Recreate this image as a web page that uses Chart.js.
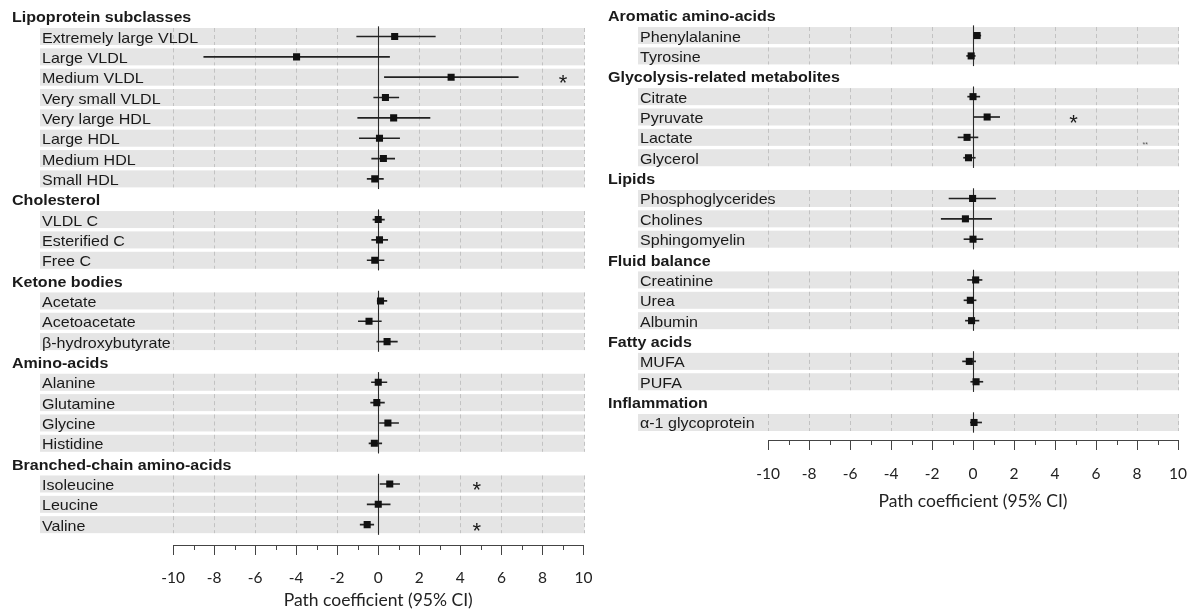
<!DOCTYPE html>
<html>
<head>
<meta charset="utf-8">
<script src="https://cdn.jsdelivr.net/npm/chart.js@4.4.1/dist/chart.umd.min.js"></script>
<style>
  html, body { margin: 0; padding: 0; background: #fff; width: 1191px; height: 612px; overflow: hidden; position: relative; }
  canvas { position: absolute; top: 0; }
  #leftPanel { left: 0; }
  #rightPanel { left: 595px; }
</style>
</head>
<body>
<canvas id="leftPanel" width="606" height="612"></canvas>
<canvas id="rightPanel" width="607" height="612"></canvas>
<script>
// ---- Left panel: rows (group headings included), estimates and 95% CI ----
const leftHeaders = ['Lipoprotein subclasses', 'Cholesterol', 'Ketone bodies', 'Amino-acids', 'Branched-chain amino-acids'];
const leftLabels = [
  'Lipoprotein subclasses',
  'Extremely large VLDL', 'Large VLDL', 'Medium VLDL', 'Very small VLDL',
  'Very large HDL', 'Large HDL', 'Medium HDL', 'Small HDL',
  'Cholesterol',
  'VLDL C', 'Esterified C', 'Free C',
  'Ketone bodies',
  'Acetate', 'Acetoacetate', 'β-hydroxybutyrate',
  'Amino-acids',
  'Alanine', 'Glutamine', 'Glycine', 'Histidine',
  'Branched-chain amino-acids',
  'Isoleucine', 'Leucine', 'Valine'
];
const leftEstimate = [
  null, 0.80, -3.98, 3.55, 0.35, 0.75, 0.06, 0.25, -0.17,
  null, 0.00, 0.06, -0.17,
  null, 0.11, -0.45, 0.43,
  null, 0.00, -0.07, 0.47, -0.19,
  null, 0.56, 0.00, -0.54
];
const leftLower = [
  null, -1.05, -8.50, 0.30, -0.22, -1.00, -0.92, -0.32, -0.54,
  null, -0.26, -0.32, -0.54,
  null, -0.05, -0.97, -0.07,
  null, -0.33, -0.37, 0.06, -0.45,
  null, 0.09, -0.54, -0.88
];
const leftUpper = [
  null, 2.78, 0.55, 6.82, 1.00, 2.52, 1.04, 0.80, 0.25,
  null, 0.30, 0.46, 0.28,
  null, 0.42, 0.15, 0.93,
  null, 0.42, 0.30, 0.99, 0.17,
  null, 1.04, 0.58, -0.22
];
const leftMarks = [
  { row: 'Medium VLDL', x: 9.0, text: '*' },
  { row: 'Isoleucine', x: 4.8, text: '*' },
  { row: 'Valine', x: 4.8, text: '*' }
];

// ---- Right panel ----
const rightHeaders = ['Aromatic amino-acids', 'Glycolysis-related metabolites', 'Lipids', 'Fluid balance', 'Fatty acids', 'Inflammation'];
const rightLabels = [
  'Aromatic amino-acids',
  'Phenylalanine', 'Tyrosine',
  'Glycolysis-related metabolites',
  'Citrate', 'Pyruvate', 'Lactate', 'Glycerol',
  'Lipids',
  'Phosphoglycerides', 'Cholines', 'Sphingomyelin',
  'Fluid balance',
  'Creatinine', 'Urea', 'Albumin',
  'Fatty acids',
  'MUFA', 'PUFA',
  'Inflammation',
  'α-1 glycoprotein'
];
const rightEstimate = [
  null, 0.20, -0.09,
  null, 0.00, 0.69, -0.29, -0.22,
  null, -0.02, -0.37, 0.00,
  null, 0.13, -0.13, -0.07,
  null, -0.18, 0.15,
  null, 0.05
];
const rightLower = [
  null, 0.02, -0.31,
  null, -0.26, 0.02, -0.73, -0.46,
  null, -1.17, -1.55, -0.44,
  null, -0.27, -0.44, -0.37,
  null, -0.51, -0.11,
  null, -0.13
];
const rightUpper = [
  null, 0.38, 0.11,
  null, 0.33, 1.30, 0.24, 0.11,
  null, 1.10, 0.91, 0.48,
  null, 0.44, 0.15, 0.29,
  null, 0.13, 0.48,
  null, 0.42
];
const rightMarks = [
  { row: 'Pyruvate', x: 4.9, text: '*' },
  { row: 'Lactate', x: 8.4, text: '**', tiny: true }
];

// x-axis range and tick step
const xMin = -10, xMax = 10, xStep = 2;
const axisTitle = 'Path coefficient (95% CI)';

const LABEL_FONT = '"Liberation Sans", Arial, sans-serif';
const AXIS_FONT = 'Lato, "Liberation Sans", sans-serif';

// Draws the shaded rows, dashed guides, zero line, row labels,
// significance markers and minor axis ticks around the datasets.
function makeDecor(cfg) {
  const headerSet = new Set(cfg.headers);
  const bandH = 17;
  return {
    id: 'forestDecor',
    beforeDatasetsDraw(chart) {
      const { ctx, chartArea: a, scales: { x, y } } = chart;
      const step = Math.abs(y.getPixelForValue(1) - y.getPixelForValue(0));
      ctx.save();
      cfg.labels.forEach((lab, i) => {
        if (headerSet.has(lab)) return;
        const cy = y.getPixelForValue(i);
        ctx.fillStyle = '#e5e5e5';
        ctx.fillRect(cfg.bandX, cy - bandH / 2, a.right + 1 - cfg.bandX, bandH);
        ctx.strokeStyle = '#c2c2c2';
        ctx.lineWidth = 1;
        ctx.setLineDash([4, 3]);
        for (let v = xMin; v <= xMax; v += xStep) {
          if (v === 0) continue;
          const px = Math.round(x.getPixelForValue(v)) + 0.5;
          ctx.beginPath();
          ctx.moveTo(px, cy - bandH / 2);
          ctx.lineTo(px, cy + bandH / 2);
          ctx.stroke();
        }
        ctx.setLineDash([]);
      });
      // zero reference line, one segment per group of rows
      const x0 = Math.round(x.getPixelForValue(0)) + 0.5;
      ctx.strokeStyle = '#2a2a2a';
      ctx.lineWidth = 1.1;
      let start = null;
      cfg.labels.forEach((lab, i) => {
        const isHead = headerSet.has(lab);
        if (!isHead && start === null) start = i;
        const last = i === cfg.labels.length - 1;
        if (start !== null && (isHead || last)) {
          const end = isHead ? i - 1 : i;
          ctx.beginPath();
          ctx.moveTo(x0, y.getPixelForValue(start) - step / 2);
          ctx.lineTo(x0, y.getPixelForValue(end) + step / 2);
          ctx.stroke();
          start = null;
        }
      });
      // row labels
      ctx.fillStyle = '#1a1a1a';
      ctx.textBaseline = 'alphabetic';
      ctx.textAlign = 'left';
      cfg.labels.forEach((lab, i) => {
        const isHead = headerSet.has(lab);
        const cy = y.getPixelForValue(i);
        ctx.save();
        ctx.translate(isHead ? cfg.headerX : cfg.itemX, cy + 6);
        ctx.scale(1.07, 1);
        ctx.font = (isHead ? 'bold ' : '') + '15px ' + LABEL_FONT;
        ctx.fillText(lab, 0, 0);
        ctx.restore();
      });
      ctx.restore();
    },
    afterDatasetsDraw(chart) {
      const { ctx, scales: { x, y } } = chart;
      ctx.save();
      ctx.fillStyle = '#1a1a1a';
      ctx.textAlign = 'center';
      ctx.textBaseline = 'alphabetic';
      cfg.marks.forEach(m => {
        const i = cfg.labels.indexOf(m.row);
        const px = x.getPixelForValue(m.x);
        const cy = y.getPixelForValue(i);
        if (m.tiny) {
          ctx.font = '7px ' + LABEL_FONT;
          ctx.fillStyle = '#555';
          ctx.fillText(m.text, px, cy + 10);
          ctx.fillStyle = '#1a1a1a';
        } else {
          ctx.font = '22px ' + LABEL_FONT;
          ctx.fillText(m.text, px, cy + 13);
        }
      });
      ctx.restore();
    },
    afterDraw(chart) {
      const { ctx, chartArea: a, scales: { x } } = chart;
      ctx.save();
      ctx.strokeStyle = '#444';
      ctx.lineWidth = 1;
      for (let v = xMin + 1; v < xMax; v += xStep) {
        const px = Math.round(x.getPixelForValue(v)) + 0.5;
        ctx.beginPath();
        ctx.moveTo(px, a.bottom);
        ctx.lineTo(px, a.bottom + 5);
        ctx.stroke();
      }
      ctx.restore();
    }
  };
}

function forestChart(id, labels, headers, est, lower, upper, marks, layout) {
  const ciData = [];
  const pointData = [];
  labels.forEach((lab, i) => {
    if (est[i] === null) return;
    ciData.push({ y: i, x: [lower[i], upper[i]] });
    pointData.push({ y: i, x: est[i] });
  });
  return new Chart(document.getElementById(id), {
    type: 'scatter',
    data: {
      datasets: [
        {
          type: 'bar',
          indexAxis: 'y',
          data: ciData,
          backgroundColor: '#222',
          borderWidth: 0,
          barThickness: 1,
          order: 2
        },
        {
          type: 'scatter',
          data: pointData,
          pointStyle: 'rect',
          pointRadius: 5,
          pointHoverRadius: 5,
          backgroundColor: '#111',
          borderWidth: 0,
          order: 1
        }
      ]
    },
    options: {
      responsive: false,
      animation: false,
      devicePixelRatio: 1,
      events: [],
      layout: { padding: { left: 173, right: 22, top: layout.top, bottom: 0 } },
      plugins: { legend: { display: false }, tooltip: { enabled: false } },
      scales: {
        x: {
          type: 'linear',
          position: 'bottom',
          min: xMin,
          max: xMax,
          offset: false,
          ticks: {
            stepSize: xStep,
            autoSkip: false,
            maxRotation: 0,
            padding: layout.tickPad,
            color: '#222',
            font: { family: AXIS_FONT, size: 15.5 }
          },
          grid: { drawOnChartArea: false, drawTicks: true, tickLength: 10, tickColor: '#444', tickWidth: 1, offset: false },
          border: { display: true, color: '#444', width: 1 },
          title: {
            display: true,
            text: axisTitle,
            color: '#222',
            font: { family: AXIS_FONT, size: 17.5 },
            padding: { top: 0, bottom: layout.titlePad }
          },
          afterFit(scale) { scale.height = layout.axisBox; }
        },
        y: {
          type: 'linear',
          reverse: true,
          min: -0.5,
          max: layout.yMax,
          offset: false,
          grid: { offset: false },
          display: false
        }
      }
    },
    plugins: [makeDecor({ labels, headers, marks, headerX: layout.headerX, itemX: layout.itemX, bandX: layout.bandX })]
  });
}

forestChart('leftPanel', leftLabels, leftHeaders, leftEstimate, leftLower, leftUpper, leftMarks,
  { top: 6, yMax: 26, axisBox: 67, tickPad: 13.5, titlePad: 1, headerX: 12, itemX: 42, bandX: 40 });

forestChart('rightPanel', rightLabels, rightHeaders, rightEstimate, rightLower, rightUpper, rightMarks,
  { top: 5, yMax: 20.86, axisBox: 172, tickPad: 15, titlePad: 100, headerX: 13, itemX: 45, bandX: 43 });
</script>
</body>
</html>
